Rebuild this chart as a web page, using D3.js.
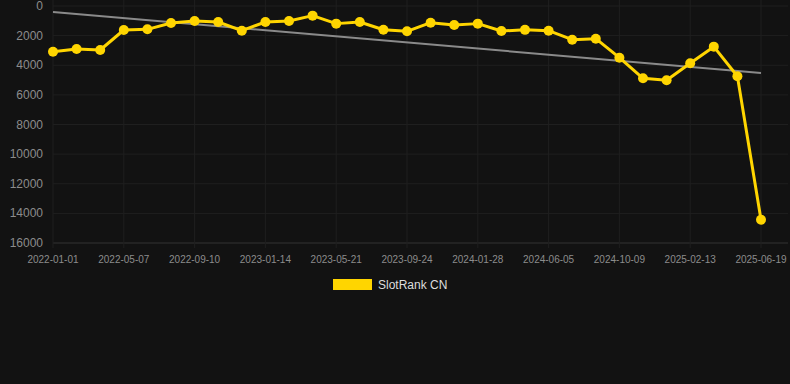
<!DOCTYPE html>
<html>
<head>
<meta charset="utf-8">
<script src="https://cdn.jsdelivr.net/npm/d3@7"></script>
<style>
  html, body { margin: 0; padding: 0; background: #121212; }
  svg { display: block; font-family: "Liberation Sans", Arial, sans-serif; }
</style>
</head>
<body>
<div id="chart"></div>
<script>
const dates = ['2022-01-01','2022-02-12','2022-03-26','2022-05-07','2022-06-18','2022-07-30',
  '2022-09-10','2022-10-22','2022-12-03','2023-01-14','2023-02-25','2023-04-08',
  '2023-05-21','2023-07-02','2023-08-13','2023-09-24','2023-11-05','2023-12-17',
  '2024-01-28','2024-03-10','2024-04-24','2024-06-05','2024-07-17','2024-08-28',
  '2024-10-09','2024-11-20','2025-01-02','2025-02-13','2025-03-27','2025-05-08','2025-06-19']
const rank = [3090, 2900, 2970, 1620, 1575, 1150, 1010, 1080, 1665, 1080, 1010, 650,
  1190, 1080, 1600, 1710, 1125, 1280, 1190, 1690, 1610, 1665, 2275, 2205,
  3490, 4880, 5015, 3870, 2745, 4745, 14425]
const trend = [400, 4520]   // start / end of the trend line
const yTicks = [0, 2000, 4000, 6000, 8000, 10000, 12000, 14000, 16000]
const seriesName = 'SlotRank CN'

const width = 790, height = 384
const margin = {top: 6, right: 29, bottom: 141, left: 53}

const svg = d3.select('#chart').append('svg')
  .attr('width', width)
  .attr('height', height)

svg.append('rect').attr('width', width).attr('height', height).attr('fill', '#121212')

const x = d3.scalePoint()
  .domain(dates)
  .range([margin.left, width - margin.right])

const y = d3.scaleLinear()
  .domain([0, 16000])
  .range([margin.top, height - margin.bottom])

const grid = svg.append('g')
const xTickVals = dates.filter((d, i) => i % 3 == 0)

grid.selectAll('.hg')
  .data(yTicks)
  .enter().append('line')
  .attr('x1', margin.left).attr('x2', width - 2)
  .attr('y1', d => y(d)).attr('y2', d => y(d))
  .attr('stroke', d => d == 16000 ? '#333' : '#1f1f1f')

grid.selectAll('.vg')
  .data(xTickVals)
  .enter().append('line')
  .attr('x1', d => x(d)).attr('x2', d => x(d))
  .attr('y1', 0).attr('y2', y(16000) + 5)
  .attr('stroke', '#1f1f1f')

// y labels
svg.append('g').selectAll('text')
  .data(yTicks)
  .enter().append('text')
  .attr('x', margin.left - 10)
  .attr('y', d => y(d) + 4)
  .attr('text-anchor', 'end')
  .attr('fill', '#8c8c8c')
  .style('font-size', '12px')
  .text(d => d)

// x labels
svg.append('g').selectAll('text')
  .data(xTickVals)
  .enter().append('text')
  .attr('x', d => x(d))
  .attr('y', y(16000) + 20)
  .attr('text-anchor', 'middle')
  .attr('fill', '#8c8c8c')
  .style('font-size', '10px')
  .text(d => d)

// trend line
svg.append('line')
  .attr('x1', x(dates[0])).attr('y1', y(trend[0]))
  .attr('x2', x(dates[dates.length - 1])).attr('y2', y(trend[1]))
  .attr('stroke', '#8a8a8a')
  .attr('stroke-width', 2)

const line = d3.line()
  .x((d, i) => x(dates[i]))
  .y(d => y(d))

svg.append('path')
  .datum(rank)
  .attr('d', line)
  .attr('fill', 'none')
  .attr('stroke', '#ffd500')
  .attr('stroke-width', 3)
  .attr('stroke-linejoin', 'round')

svg.append('g').selectAll('circle')
  .data(rank)
  .enter().append('circle')
  .attr('cx', (d, i) => x(dates[i]))
  .attr('cy', d => y(d))
  .attr('r', 5)
  .attr('fill', '#ffd500')

// legend
const legend = svg.append('g').attr('transform', 'translate(333,279)')
legend.append('rect')
  .attr('width', 39).attr('height', 11)
  .attr('fill', '#ffd500')
legend.append('text')
  .attr('x', 45).attr('y', 10)
  .attr('fill', '#dddddd')
  .style('font-size', '12px')
  .text(seriesName)
</script>
</body>
</html>
